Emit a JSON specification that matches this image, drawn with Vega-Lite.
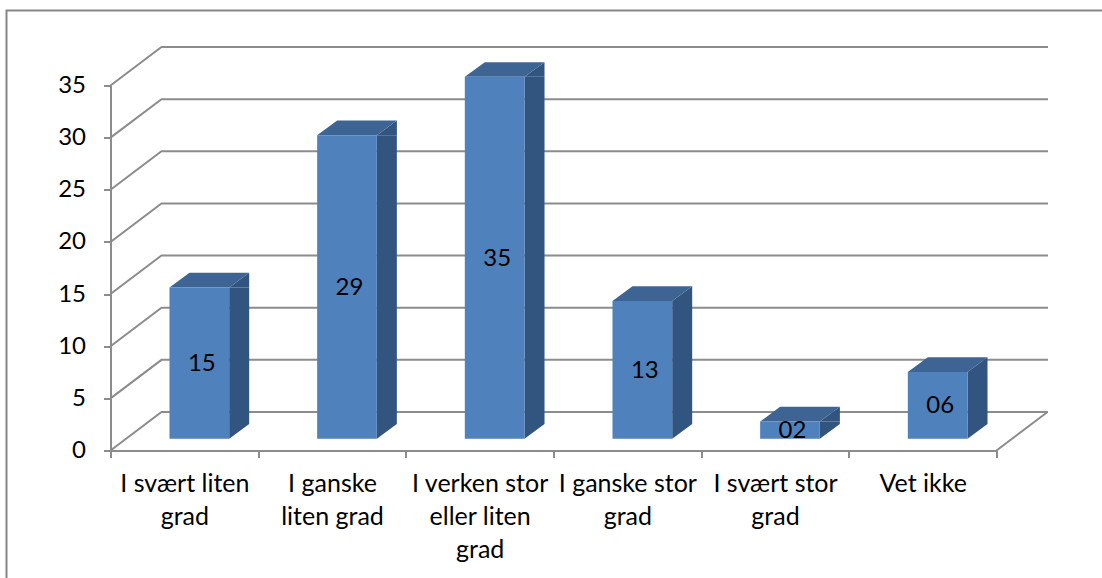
{
  "$schema": "https://vega.github.io/schema/vega-lite/v6.json",
  "width": 886,
  "height": 365,
  "autosize": "none",
  "padding": {"left": 110.5, "top": 85.5, "right": 105.5, "bottom": 127.5},
  "background": "white",
  "config": {"view": {"stroke": null}, "font": "Lato"},
  "datasets": {
    "answers": [
      {"category": "I svært liten grad", "value": 14.5, "label": "15"},
      {"category": "I ganske liten grad", "value": 29.1, "label": "29"},
      {"category": "I verken stor eller liten grad", "value": 34.7, "label": "35"},
      {"category": "I ganske stor grad", "value": 13.2, "label": "13"},
      {"category": "I svært stor grad", "value": 1.65, "label": "02"},
      {"category": "Vet ikke", "value": 6.4, "label": "06"}
    ],
    "ticks": [{"tick": 0}, {"tick": 5}, {"tick": 10}, {"tick": 15}, {"tick": 20}, {"tick": 25}, {"tick": 30}, {"tick": 35}]
  },
  "resolve": {"scale": {"y": "independent"}},
  "encoding": {
    "x": {
      "field": "category",
      "type": "nominal",
      "title": null,
      "scale": {
        "domain": ["I svært liten grad", "I ganske liten grad", "I verken stor eller liten grad", "I ganske stor grad", "I svært stor grad", "Vet ikke"],
        "paddingInner": 0,
        "paddingOuter": 0
      },
      "axis": {
        "labelAngle": 0,
        "labelFontSize": 25,
        "labelColor": "#000000",
        "labelFont": "Lato",
        "labelLineHeight": 33,
        "labelPadding": 14,
        "labelBaseline": "top",
        "labelLimit": 0,
        "tickBand": "extent",
        "tickColor": "#8c8c8c",
        "tickWidth": 2,
        "tickSize": 7,
        "domainColor": "#8c8c8c",
        "domainWidth": 2,
        "grid": false,
        "labelExpr": "datum.value == 'I svært liten grad' ? ['I svært liten', 'grad'] : datum.value == 'I ganske liten grad' ? ['I ganske', 'liten grad'] : datum.value == 'I verken stor eller liten grad' ? ['I verken stor', 'eller liten', 'grad'] : datum.value == 'I ganske stor grad' ? ['I ganske stor', 'grad'] : datum.value == 'I svært stor grad' ? ['I svært stor', 'grad'] : datum.value"
      }
    }
  },
  "layer": [
    {
      "data": {"name": "ticks"},
      "mark": {"type": "point", "shape": "M0 0 L51 -38.5 H937.5", "size": 4, "filled": false, "stroke": "#8c8c8c", "strokeWidth": 2, "opacity": 1},
      "encoding": {
        "x": {"datum": "I svært liten grad", "bandPosition": 0},
        "y": {
          "field": "tick",
          "type": "quantitative",
          "title": null,
          "scale": {"domain": [0, 35], "nice": false},
          "axis": {
            "values": [0, 5, 10, 15, 20, 25, 30, 35],
            "labelFontSize": 24,
            "labelColor": "#000000",
            "labelFont": "Lato",
            "labelPadding": 18,
            "tickColor": "#8c8c8c",
            "tickWidth": 2,
            "tickSize": 7,
            "domainColor": "#8c8c8c",
            "domainWidth": 2,
            "grid": false
          }
        }
      }
    },
    {
      "data": {"values": [{"tick": 0}]},
      "mark": {"type": "point", "shape": "M0 0 L51 -38.5", "size": 4, "filled": false, "stroke": "#8c8c8c", "strokeWidth": 2, "opacity": 1},
      "encoding": {
        "x": {"datum": "Vet ikke", "bandPosition": 1},
        "y": {"field": "tick", "type": "quantitative", "scale": {"domain": [0, 35], "nice": false}, "axis": null}
      }
    },
    {
      "data": {"values": [{"tick": 35}]},
      "mark": {"type": "point", "shape": "M-104 493 V-75 H992", "size": 4, "filled": false, "stroke": "#868686", "strokeWidth": 2, "opacity": 1},
      "encoding": {
        "x": {"datum": "I svært liten grad", "bandPosition": 0},
        "y": {"field": "tick", "type": "quantitative", "scale": {"domain": [0, 35], "nice": false}, "axis": null}
      }
    },
    {
      "data": {"name": "answers"},
      "mark": {"type": "bar", "size": 20, "xOffset": 54.85, "yOffset": -11.8, "y2Offset": -26.5, "color": "#325580"},
      "encoding": {
        "y": {"field": "value", "type": "quantitative", "scale": {"domain": [0, 35], "nice": false}, "axis": null},
        "y2": {"datum": 0}
      }
    },
    {
      "data": {"name": "answers"},
      "mark": {"type": "point", "shape": "M44.85 -11.8 V-26.5 H64.85 Z", "size": 4, "filled": true, "color": "#325580", "opacity": 1, "strokeWidth": 0},
      "encoding": {
        "y": {"datum": 0, "type": "quantitative", "scale": {"domain": [0, 35], "nice": false}, "axis": null}
      }
    },
    {
      "data": {"name": "answers"},
      "mark": {"type": "point", "shape": "M44.85 -11.8 L64.85 -26.5 V-11.8 Z", "size": 4, "filled": true, "color": "#325580", "opacity": 1, "strokeWidth": 0},
      "encoding": {
        "y": {"field": "value", "type": "quantitative", "scale": {"domain": [0, 35], "nice": false}, "axis": null}
      }
    },
    {
      "data": {"name": "answers"},
      "mark": {"type": "point", "shape": "M-14.85 -11.8 L5.15 -26.5 H64.85 L44.85 -11.8 Z", "size": 4, "filled": true, "color": "#3e6494", "opacity": 1, "strokeWidth": 0},
      "encoding": {
        "y": {"field": "value", "type": "quantitative", "scale": {"domain": [0, 35], "nice": false}, "axis": null}
      }
    },
    {
      "data": {"name": "answers"},
      "mark": {"type": "bar", "size": 59.7, "xOffset": 15, "yOffset": -11.8, "y2Offset": -11.8, "color": "#4f81bd"},
      "encoding": {
        "y": {"field": "value", "type": "quantitative", "scale": {"domain": [0, 35], "nice": false}, "axis": null},
        "y2": {"datum": 0}
      }
    },
    {
      "data": {"name": "answers"},
      "mark": {"type": "text", "xOffset": 17.5, "yOffset": -10.8, "fontSize": 24, "font": "Lato", "color": "#000000", "baseline": "middle", "align": "center"},
      "encoding": {
        "y": {"field": "value", "type": "quantitative", "scale": {"domain": [0, 70], "nice": false}, "axis": null},
        "text": {"field": "label", "type": "nominal"}
      }
    }
  ]
}
